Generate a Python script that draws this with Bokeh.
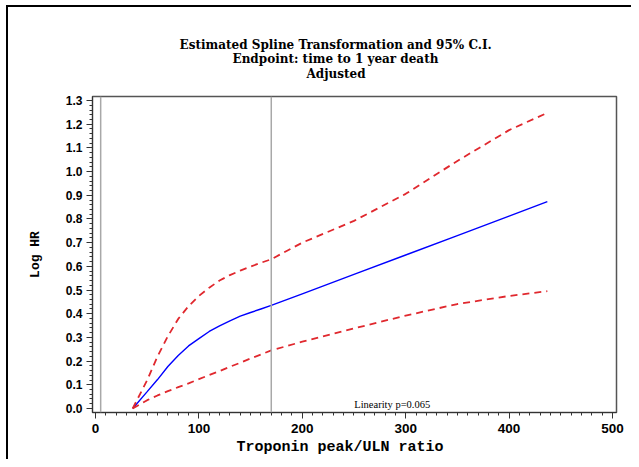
from bokeh.plotting import figure
from bokeh.models import Span, Label, Range1d, FixedTicker, CustomJSTickFormatter, Title
from bokeh.embed import file_html
from bokeh.resources import INLINE

# Data
x_vals = [36, 50, 60, 70, 80, 90, 100, 110, 120, 130, 140, 150, 160, 170,
          200, 250, 300, 350, 400, 437]
est = [0.0, 0.071, 0.122, 0.177, 0.224, 0.264, 0.295, 0.325, 0.349, 0.370,
       0.390, 0.405, 0.420, 0.435, 0.484, 0.566, 0.648, 0.730, 0.812, 0.873]
upper = [0.0, 0.12, 0.22, 0.305, 0.378, 0.432, 0.475, 0.510, 0.540, 0.563,
         0.582, 0.599, 0.615, 0.630, 0.700, 0.792, 0.906, 1.045, 1.175, 1.248]
lower = [0.0, 0.035, 0.055, 0.073, 0.090, 0.106, 0.124, 0.141, 0.158, 0.176,
         0.193, 0.211, 0.228, 0.245, 0.282, 0.338, 0.392, 0.441, 0.475, 0.495]
knots = [5, 170]
x_ticks = [0, 100, 200, 300, 400, 500]
y_ticks = [0.0, 0.1, 0.2, 0.3, 0.4, 0.5, 0.6, 0.7, 0.8, 0.9, 1.0, 1.1, 1.2, 1.3]
title_lines = ["Estimated Spline Transformation and 95% C.I.",
               "Endpoint: time to 1 year death",
               "Adjusted"]
x_label = "Troponin peak/ULN ratio"
y_label = "Log HR"
note = "Linearity p=0.065"

W, H = 631, 459
p = figure(width=W, height=H, output_backend="svg", toolbar_location=None,
           x_range=Range1d(-2.9, 503.9), y_range=Range1d(-0.017, 1.317),
           min_border_left=92, min_border_right=15, min_border_top=96,
           min_border_bottom=47, background_fill_color="white",
           border_fill_alpha=0.0)
# outer page frame (left and top edges) drawn as host background
p.styles = {"background": "linear-gradient(#000,#000) 6px 5px / 2px calc(100% - 5px) no-repeat, "
                          "linear-gradient(#000,#000) 6px 5px / calc(100% - 6px) 2px no-repeat, #fff"}
p.grid.visible = False
p.outline_line_color = "#555555"
p.outline_line_width = 1.5

# Titles: first added sits closest to the frame
p.add_layout(Title(text=" ", text_font_size="12.5px", standoff=0), "above")
for txt, off, so in [(title_lines[2], 214, 0), (title_lines[1], 140, -2),
                     (title_lines[0], 87, -2)]:
    p.add_layout(Title(text=txt, align="left", offset=off, standoff=so,
                       text_font="DejaVu Serif", text_font_size="12px",
                       text_font_style="bold", text_color="black"), "above")

# x-axis label as a title below the axis
p.add_layout(Title(text=x_label, align="left", offset=144, standoff=3,
                   text_font="Liberation Mono", text_font_size="15px",
                   text_font_style="bold", text_color="black"), "below")

for k in knots:
    p.add_layout(Span(location=k, dimension="height", line_color="#a8a8a8",
                      line_width=1.5))

p.line(x_vals, est, line_color="blue", line_width=1.4)
p.line(x_vals, upper, line_color="#e0282e", line_width=1.8, line_dash="7 5")
p.line(x_vals, lower, line_color="#e0282e", line_width=1.8, line_dash="7 5")

p.add_layout(Label(x=287, y=-0.008, text=note, text_font="Liberation Serif",
                   text_font_size="10.5px", text_align="center",
                   text_baseline="bottom", text_color="black"))

xa = p.xaxis[0]
xa.ticker = FixedTicker(ticks=x_ticks,
                        minor_ticks=[v for v in range(0, 501, 10)])
xa.major_label_text_font = "Liberation Sans"
xa.major_label_text_font_size = "13.5px"
xa.major_label_text_font_style = "bold"
xa.major_label_standoff = 5

ya = p.yaxis[0]
ya.ticker = FixedTicker(ticks=y_ticks,
                        minor_ticks=[i / 50 for i in range(0, 66)])
ya.axis_label = y_label
ya.axis_label_text_font = "Liberation Mono"
ya.axis_label_text_font_size = "13px"
ya.axis_label_text_font_style = "bold"
ya.axis_label_standoff = 20
ya.major_label_text_font = "Liberation Sans"
ya.major_label_text_font_size = "12px"
ya.major_label_text_font_style = "bold"
ya.major_label_standoff = 4
ya.formatter = CustomJSTickFormatter(code="return tick.toFixed(1);")

for ax in (xa, ya):
    ax.axis_line_color = "#333333"
    ax.major_tick_line_color = "#333333"
    ax.minor_tick_line_color = "#333333"
    ax.major_tick_out = 6
    ax.major_tick_in = 0
    ax.minor_tick_out = 3
    ax.minor_tick_in = 0
    ax.major_label_text_color = "black"
    ax.axis_label_text_color = "black"

open("out.html", "w").write(file_html(p, INLINE))
